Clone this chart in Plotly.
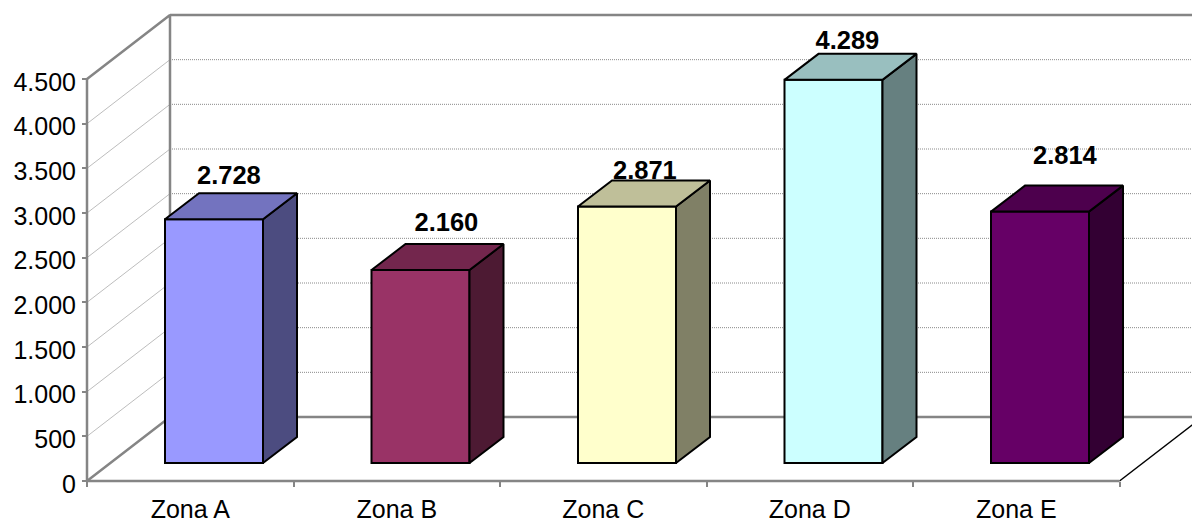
import plotly.graph_objects as go

categories = ["Zona A", "Zona B", "Zona C", "Zona D", "Zona E"]
values = [2728, 2160, 2871, 4289, 2814]
value_labels = ["2.728", "2.160", "2.871", "4.289", "2.814"]
y_ticks = [0, 500, 1000, 1500, 2000, 2500, 3000, 3500, 4000, 4500]
y_tick_labels = ["0", "500", "1.000", "1.500", "2.000", "2.500", "3.000", "3.500", "4.000", "4.500"]
label_gap = [171, 216, 94, 129, 313]   # value units above the bar's back top edge
label_shift = [2, 13, 5, 1, 12]        # pixels to the right of the default label place

front_colors = ["#9999FF", "#993366", "#FFFFCC", "#CCFFFF", "#660066"]
top_colors = ["#7373BF", "#73264D", "#BFBF99", "#99BFBF", "#4D004D"]
side_colors = ["#4C4C80", "#4D1A33", "#808066", "#668080", "#330033"]

W, H = 1192, 523
ML, MB = 87, 42
PX_CAT = 206.5
PX_VAL = 402 / 4500
n = len(categories)
y_max = 4500
WALL_DX, WALL_DY = 83 / PX_CAT, 64 / PX_VAL
BAR_DX, BAR_DY = 34 / PX_CAT, 26 / PX_VAL
BAR_W = 98 / PX_CAT
BAR_SHIFT = 0.615
FLOOR = 18 / PX_VAL
GRAY = "#858585"

fig = go.Figure()


def line(xs, ys, color=GRAY, width=2.5, dash="solid", z=0):
    fig.add_trace(go.Scatter(x=xs, y=ys, mode="lines", zorder=z,
                             line=dict(color=color, width=width, dash=dash),
                             hoverinfo="skip", showlegend=False))


# walls' gridlines
for t in y_ticks[1:]:
    line([0, WALL_DX], [t, t + WALL_DY], "#BDBDBD", 1)
    if t < y_max:
        line([WALL_DX, n + WALL_DX], [t + WALL_DY] * 2, "#8A8A8A", 1, "1px,1px")

# wall and floor frame
line([0, WALL_DX, n + WALL_DX], [0, WALL_DY, WALL_DY])
line([0, WALL_DX, WALL_DX], [y_max, y_max + WALL_DY, WALL_DY])
line([WALL_DX, n + WALL_DX], [y_max + WALL_DY] * 2)
line([n, n + WALL_DX], [0, WALL_DY], "#000000", 1.5)
line([0, 0], [0, y_max])
line([0, n], [0, 0])

# bars: front faces
centers = [i + BAR_SHIFT for i in range(n)]
fig.add_trace(go.Bar(x=centers, y=values, base=[FLOOR] * n, width=BAR_W, zorder=1,
                     marker=dict(color=front_colors, line=dict(color="#000000", width=2)),
                     hoverinfo="skip", showlegend=False))

# bars: side and top faces
for c, v, ct, cs in zip(centers, values, top_colors, side_colors):
    r, l, top = c + BAR_W / 2, c - BAR_W / 2, FLOOR + v
    fig.add_trace(go.Scatter(x=[r, r + BAR_DX, r + BAR_DX, r, r],
                             y=[FLOOR, FLOOR + BAR_DY, top + BAR_DY, top, FLOOR],
                             mode="lines", fill="toself", fillcolor=cs, zorder=2,
                             line=dict(color="#000000", width=2), hoverinfo="skip", showlegend=False))
    fig.add_trace(go.Scatter(x=[l, l + BAR_DX, r + BAR_DX, r, l],
                             y=[top, top + BAR_DY, top + BAR_DY, top, top],
                             mode="lines", fill="toself", fillcolor=ct, zorder=2,
                             line=dict(color="#000000", width=2), hoverinfo="skip", showlegend=False))

# value labels
fig.add_trace(go.Scatter(
    x=[c + (BAR_DX / 2 - 0.02) + s / PX_CAT for c, s in zip(centers, label_shift)],
    y=[FLOOR + v + BAR_DY + g for v, g in zip(values, label_gap)],
    mode="text", text=value_labels, textposition="middle center", zorder=3,
    textfont=dict(family="Liberation Sans, Arial, sans-serif", size=25.5, color="#000000"),
    texttemplate="<b>%{text}</b>", hoverinfo="skip", showlegend=False))

font = dict(family="Liberation Sans, Arial, sans-serif", size=25, color="#000000")
fig.update_layout(
    width=W, height=H, autosize=False,
    margin=dict(l=0, r=0, t=0, b=0, autoexpand=False),
    paper_bgcolor="#FFFFFF", plot_bgcolor="#FFFFFF",
    showlegend=False, font=font,
    xaxis=dict(range=[-ML / PX_CAT, (W - ML) / PX_CAT], domain=[0, 1], automargin=False,
               anchor="free", position=MB / H,
               showgrid=False, zeroline=False, showline=False,
               tickmode="array", tickvals=[i + 0.5 for i in range(n)], ticktext=categories,
               ticks="outside", ticklen=0, tickfont=font, fixedrange=True, ticklabelstandoff=6,
               minor=dict(tickmode="array", tickvals=list(range(n + 1)), ticks="outside",
                          ticklen=5, tickcolor=GRAY, tickwidth=1.5, showgrid=False)),
    yaxis=dict(range=[-MB / PX_VAL, (H - MB) / PX_VAL], domain=[0, 1], automargin=False,
               anchor="free", position=ML / W,
               showgrid=False, zeroline=False, showline=False,
               tickmode="array", tickvals=y_ticks, ticktext=y_tick_labels,
               ticks="outside", ticklen=5, tickcolor=GRAY, tickwidth=1.5, tickfont=font,
               fixedrange=True, ticklabelshift=3, ticklabelstandoff=1),
)
fig.write_html("out.html", config={"displayModeBar": False, "responsive": False},
               post_script="document.body.style.margin='0';document.body.style.overflow='hidden';")
